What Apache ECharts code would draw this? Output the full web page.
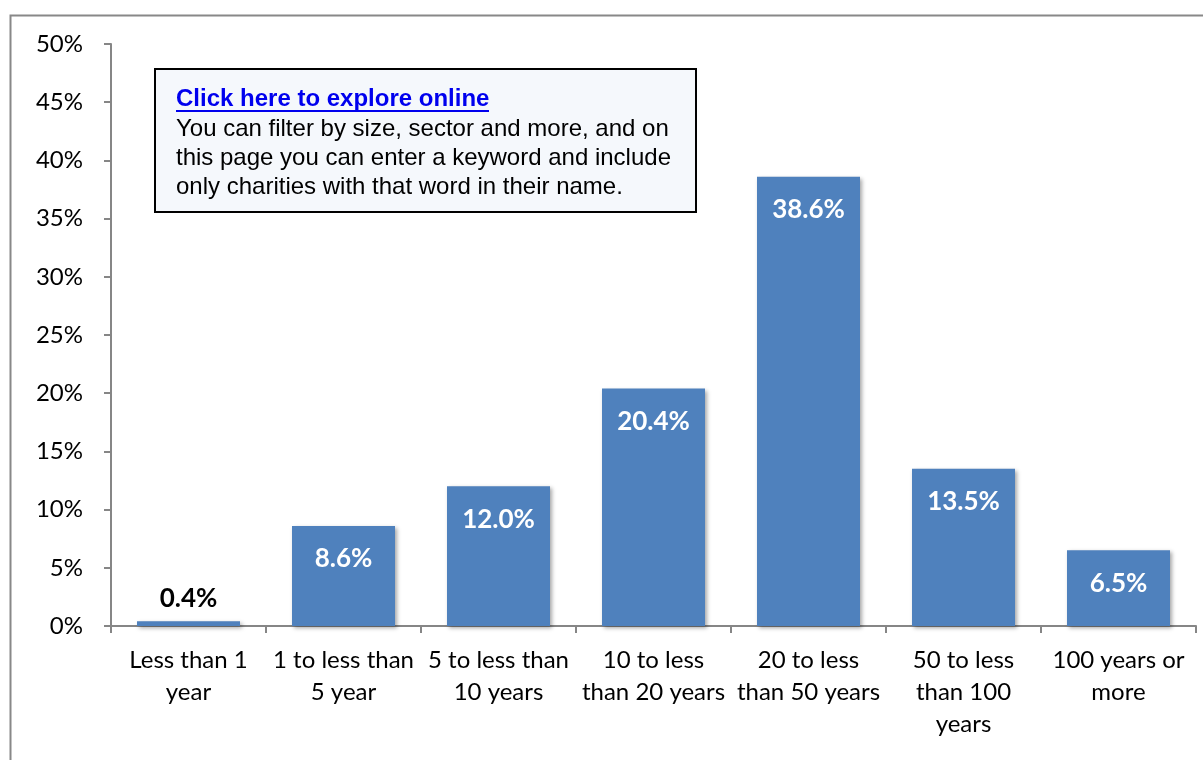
<!DOCTYPE html>
<html>
<head>
<meta charset="utf-8">
<script src="https://cdn.jsdelivr.net/npm/echarts@6/dist/echarts.min.js"></script>
<style>
html,body{margin:0;padding:0;background:#fff;}
#chart{width:1203px;height:760px;}
</style>
</head>
<body>
<div id="chart"></div>
<script>
const categories = [
  "Less than 1\nyear",
  "1 to less than\n5 year",
  "5 to less than\n10 years",
  "10 to less\nthan 20 years",
  "20 to less\nthan 50 years",
  "50 to less\nthan 100\nyears",
  "100 years or\nmore"
];
const values = [0.4, 8.6, 12.0, 20.4, 38.6, 13.5, 6.5];
const yTicks = { min: 0, max: 50, interval: 5 };
const boxTitle = "Click here to explore online";
const boxLines = [
  "You can filter by size, sector and more, and on",
  "this page you can enter a keyword and include",
  "only charities with that word in their name."
];

const chart = echarts.init(document.getElementById('chart'));
const data = values.map(v => {
  const small = v < 2;
  return {
    value: v,
    label: small
      ? { position: 'top', distance: 10, color: '#000' }
      : { position: 'insideTop', distance: 20, color: '#fff' }
  };
});

chart.setOption({
  animation: false,
  backgroundColor: '#fff',
  grid: { left: 111, right: 7, top: 44, bottom: 134 },
  xAxis: {
    type: 'category',
    data: categories,
    axisLine: { lineStyle: { color: '#868686', width: 2 } },
    axisTick: { show: true, length: 7, lineStyle: { color: '#868686', width: 2 } },
    axisLabel: {
      interval: 0, margin: 18, color: '#000',
      fontFamily: 'Lato', fontSize: 24, lineHeight: 32
    },
    splitLine: { show: false }
  },
  yAxis: {
    type: 'value',
    min: yTicks.min, max: yTicks.max, interval: yTicks.interval,
    axisLine: { show: true, lineStyle: { color: '#868686', width: 2 } },
    axisTick: { show: true, length: 7, lineStyle: { color: '#868686', width: 2 } },
    axisLabel: {
      formatter: '{value}%', margin: 28, color: '#000',
      fontFamily: 'Lato', fontSize: 24
    },
    splitLine: { show: false }
  },
  series: [{
    type: 'bar',
    data: data,
    barWidth: 103,
    itemStyle: {
      color: '#4F81BD',
      shadowColor: 'rgba(0,0,0,0.35)', shadowBlur: 4, shadowOffsetX: 2, shadowOffsetY: 2
    },
    label: {
      show: true,
      formatter: p => p.value.toFixed(1) + '%',
      fontFamily: 'Lato', fontWeight: 'bold', fontSize: 26
    }
  }],
  graphic: [
    {
      type: 'rect', left: 8, top: 13, silent: true, z: -10,
      shape: { width: 1300, height: 800 },
      style: { fill: null, stroke: '#888', lineWidth: 2 }
    },
    {
      type: 'rect', left: 154, top: 68, z: 10,
      shape: { width: 541, height: 143 },
      style: { fill: '#F5F8FC', stroke: '#000', lineWidth: 2 }
    },
    {
      type: 'text', left: 176, top: 87, z: 11,
      style: { text: boxTitle, fill: '#0000EE', font: 'bold 24px "Liberation Sans"' }
    },
    {
      type: 'line', z: 11,
      shape: { x1: 176, y1: 111, x2: 489, y2: 111 },
      style: { stroke: '#0000EE', lineWidth: 2 }
    },
    {
      type: 'text', left: 176, top: 115, z: 11,
      style: { text: boxLines.join('\n'), fill: '#000', font: '24px "Liberation Sans"', lineHeight: 29 }
    }
  ]
});
</script>
</body>
</html>
